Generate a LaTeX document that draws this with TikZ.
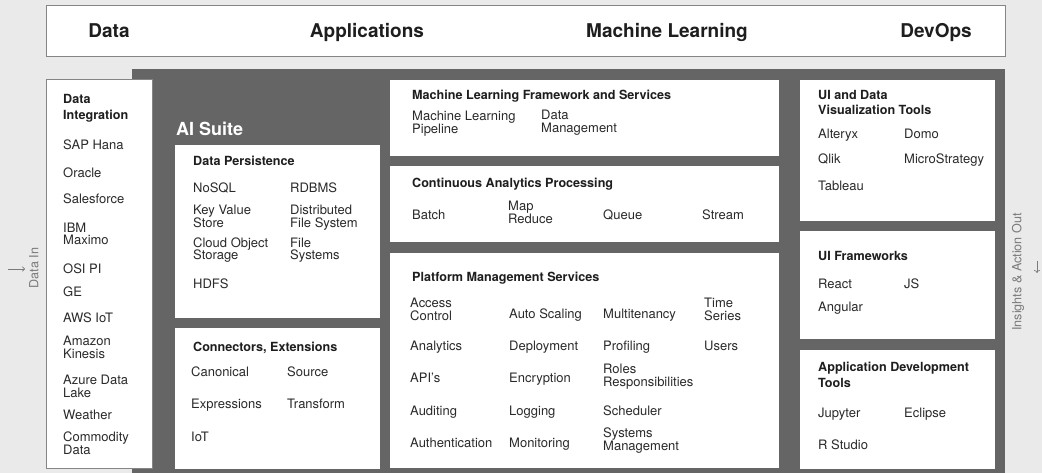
\documentclass[tikz,border=0pt]{standalone}
\usepackage{fontspec}
\setmainfont{TeX Gyre Heros}
\usetikzlibrary{arrows.meta}
\definecolor{bgcol}{HTML}{EAEAEA}
\definecolor{darkcol}{HTML}{646564}
\definecolor{edgecol}{HTML}{858585}
\definecolor{ttlcol}{HTML}{1E1E1E}
\definecolor{itemcol}{HTML}{2A2A2A}
\definecolor{sidecol}{HTML}{7A7A7A}
\tikzset{
  item/.style={anchor=base west, inner sep=0pt, align=left, text=itemcol,
    font=\fontsize{13}{13}\selectfont},
  ttl/.style={anchor=base west, inner sep=0pt, align=left, text=ttlcol,
    font=\fontsize{12.6}{15.5}\selectfont\bfseries},
  head/.style={anchor=base, inner sep=0pt, text=ttlcol,
    font=\fontsize{19}{22}\selectfont\bfseries},
  side/.style={inner sep=0pt, text=sidecol, rotate=90,
    font=\fontsize{12.6}{13}\selectfont},
  whitebox/.style={fill=white},
  edgebox/.style={fill=white, draw=edgecol, line width=1pt},
}
\begin{document}
\begin{tikzpicture}[x=1pt,y=-1pt]
\useasboundingbox (0,0) rectangle (1042,473);
\fill[bgcol] (0,0) rectangle (1042,473);
% top bar
\draw[edgebox] (46,5.5) rectangle (1005,57);
\node[head] (hData) at (109,38) {Data};
\node[head] (hApp) at (367,38) {Applications};
\node[head] (hML) at (667,38) {Machine Learning};
\node[head] (hDev) at (936,38) {DevOps};
% dark panel
\fill[darkcol] (132,69) rectangle (1005,475);
% data integration box
\draw[edgebox] (46,80) rectangle (152,468);
\node[ttl] (diT) at (63,119.5) {Data\\Integration};
\node[item] (di1) at (63,150) {SAP Hana};
\node[item] (di2) at (63,178) {Oracle};
\node[item] (di3) at (63,204) {Salesforce};
\node[item] (di4) at (63,245) {IBM\\Maximo};
\node[item] (di5) at (63,274) {OSI PI};
\node[item] (di6) at (63,296) {GE};
\node[item] (di7) at (63,322) {AWS IoT};
\node[item] (di8) at (63,358) {Amazon\\Kinesis};
\node[item] (di9) at (63,397) {Azure Data\\Lake};
\node[item] (di10) at (63,419) {Weather};
\node[item] (di11) at (63,454) {Commodity\\Data};
% AI suite
\node[anchor=base west, inner sep=0pt, text=white, font=\fontsize{18}{20}\selectfont\bfseries] (ai) at (176,136) {AI Suite};
% data persistence
\fill[whitebox] (175,145) rectangle (380,318);
\node[ttl] (dpT) at (193,166) {Data Persistence};
\node[item] (dp1) at (193,193) {NoSQL};
\node[item] (dp2) at (290,193) {RDBMS};
\node[item] (dp3) at (193,228) {Key Value\\Store};
\node[item] (dp4) at (290,228) {Distributed\\File System};
\node[item] (dp5) at (193,260) {Cloud Object\\Storage};
\node[item] (dp6) at (290,260) {File\\Systems};
\node[item] (dp7) at (193,289) {HDFS};
% connectors
\fill[whitebox] (175,328) rectangle (380,469);
\node[ttl] (ceT) at (193,351) {Connectors, Extensions};
\node[item] (ce1) at (191,376) {Canonical};
\node[item] (ce2) at (287,376) {Source};
\node[item] (ce3) at (191,408) {Expressions};
\node[item] (ce4) at (287,408) {Transform};
\node[item] (ce5) at (191,441) {IoT};
% ML framework
\fill[whitebox] (390,80) rectangle (779,156);
\node[ttl] (mlT) at (412,100) {Machine Learning Framework and Services};
\node[item] (ml1) at (412,134) {Machine Learning\\Pipeline};
\node[item] (ml2) at (541,133) {Data\\Management};
% continuous analytics
\fill[whitebox] (390,166) rectangle (779,242);
\node[ttl] (caT) at (412,188) {Continuous Analytics Processing};
\node[item] (ca1) at (412,220) {Batch};
\node[item] (ca2) at (508,224) {Map\\Reduce};
\node[item] (ca3) at (603,220) {Queue};
\node[item] (ca4) at (702,220) {Stream};
% platform management
\fill[whitebox] (390,253) rectangle (779,468);
\node[ttl] (pmT) at (412,282) {Platform Management Services};
\node[item] (pm1) at (410,320) {Access\\Control};
\node[item] (pm2) at (509,318) {Auto Scaling};
\node[item] (pm3) at (603,318) {Multitenancy};
\node[item] (pm4) at (704,320) {Time\\Series};
\node[item] (pm5) at (410,350) {Analytics};
\node[item] (pm6) at (509,350) {Deployment};
\node[item] (pm7) at (603,350) {Profiling};
\node[item] (pm8) at (704,350) {Users};
\node[item] (pm9) at (410,382) {API’s};
\node[item] (pm10) at (509,382) {Encryption};
\node[item] (pm11) at (603,386) {Roles\\Responsibilities};
\node[item] (pm12) at (410,415) {Auditing};
\node[item] (pm13) at (509,415) {Logging};
\node[item] (pm14) at (603,415) {Scheduler};
\node[item] (pm15) at (410,447) {Authentication};
\node[item] (pm16) at (509,447) {Monitoring};
\node[item] (pm17) at (603,450) {Systems\\Management};
% UI and data viz
\fill[whitebox] (800,80) rectangle (995,221);
\node[ttl] (uvT) at (818,115) {UI and Data\\Visualization Tools};
\node[item] (uv1) at (818,139) {Alteryx};
\node[item] (uv2) at (904,139) {Domo};
\node[item] (uv3) at (818,164) {Qlik};
\node[item] (uv4) at (904,164) {MicroStrategy};
\node[item] (uv5) at (818,191) {Tableau};
% UI frameworks
\fill[whitebox] (800,231) rectangle (995,339);
\node[ttl] (ufT) at (818,261) {UI Frameworks};
\node[item] (uf1) at (818,288) {React};
\node[item] (uf2) at (904,288) {JS};
\node[item] (uf3) at (818,311) {Angular};
% app dev tools
\fill[whitebox] (800,350) rectangle (995,469);
\node[ttl] (adT) at (818,387) {Application Development\\Tools};
\node[item] (ad1) at (818,417) {Jupyter};
\node[item] (ad2) at (904,417) {Eclipse};
\node[item] (ad3) at (818,449) {R Studio};
% side labels
\node[side] (din) at (34,268) {Data In};
\coordinate (inA) at (8,269);
\coordinate (inB) at (25,269);
\draw[sidecol, line width=0.7pt, -{To[length=3pt,width=5pt]}] (inA) -- (inB);
\node[side] (dout) at (1018,272) {Insights \& Action Out};
\coordinate (outA) at (1037,261);
\coordinate (outB) at (1037,273);
\draw[sidecol, line width=0.7pt, -{To[length=3pt,width=6pt]}] (outA) -- (outB);
\end{tikzpicture}
\end{document}
